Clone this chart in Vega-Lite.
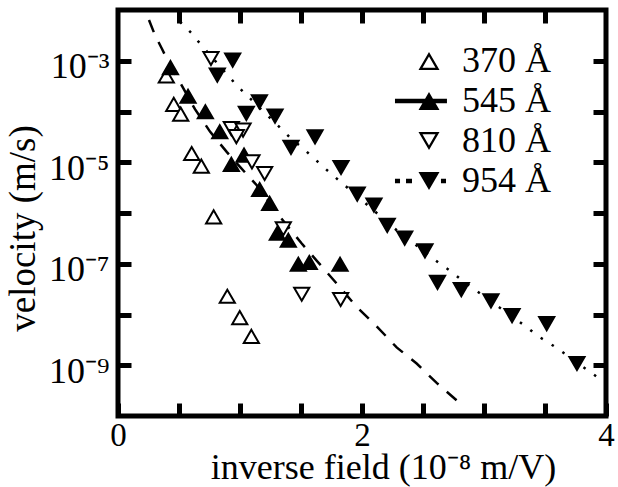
{
  "$schema": "https://vega.github.io/schema/vega-lite/v6.json",
  "width": 488,
  "height": 406,
  "autosize": {"type": "none"},
  "padding": {"left": 118, "top": 10, "right": 12, "bottom": 71},
  "background": "white",
  "config": {
    "view": {"stroke": "black", "strokeWidth": 5},
    "font": "Liberation Serif",
    "axis": {"grid": false, "domain": false, "tickColor": "black", "tickWidth": 5, "tickSize": -13, "labelColor": "black", "titleColor": "black", "labelFont": "Liberation Serif", "titleFont": "Liberation Serif", "titleFontWeight": "normal"},
    "legend": {"labelFont": "Liberation Serif"}
  },
  "datasets": {
    "pts": [
      {"s": "370 Å", "x": 0.396, "v": 5.0e-4},
      {"s": "370 Å", "x": 0.457, "v": 1.38e-4},
      {"s": "370 Å", "x": 0.514, "v": 8.9e-5},
      {"s": "370 Å", "x": 0.604, "v": 1.49e-5},
      {"s": "370 Å", "x": 0.683, "v": 8.4e-6},
      {"s": "370 Å", "x": 0.784, "v": 8.4e-7},
      {"s": "370 Å", "x": 0.896, "v": 2.29e-8},
      {"s": "370 Å", "x": 0.998, "v": 8.7e-9},
      {"s": "370 Å", "x": 1.093, "v": 3.7e-9},
      {"s": "545 Å", "x": 0.430, "v": 7.3e-4},
      {"s": "545 Å", "x": 0.574, "v": 2.0e-4},
      {"s": "545 Å", "x": 0.716, "v": 9.9e-5},
      {"s": "545 Å", "x": 0.834, "v": 4.0e-5},
      {"s": "545 Å", "x": 0.929, "v": 9.1e-6},
      {"s": "545 Å", "x": 1.033, "v": 1.38e-5},
      {"s": "545 Å", "x": 1.161, "v": 2.9e-6},
      {"s": "545 Å", "x": 1.243, "v": 1.55e-6},
      {"s": "545 Å", "x": 1.306, "v": 4.0e-7},
      {"s": "545 Å", "x": 1.396, "v": 2.9e-7},
      {"s": "545 Å", "x": 1.478, "v": 9.8e-8},
      {"s": "545 Å", "x": 1.568, "v": 1.06e-7},
      {"s": "545 Å", "x": 1.820, "v": 9.8e-8},
      {"s": "810 Å", "x": 0.762, "v": 1.11e-3},
      {"s": "810 Å", "x": 0.929, "v": 4.6e-5},
      {"s": "810 Å", "x": 1.025, "v": 4.3e-5},
      {"s": "810 Å", "x": 0.970, "v": 3.2e-5},
      {"s": "810 Å", "x": 1.098, "v": 1.02e-5},
      {"s": "810 Å", "x": 1.202, "v": 6.0e-6},
      {"s": "810 Å", "x": 1.355, "v": 4.9e-7},
      {"s": "810 Å", "x": 1.506, "v": 2.5e-8},
      {"s": "810 Å", "x": 1.825, "v": 1.97e-8},
      {"s": "954 Å", "x": 0.940, "v": 1.03e-3},
      {"s": "954 Å", "x": 0.814, "v": 5.2e-4},
      {"s": "954 Å", "x": 1.159, "v": 1.55e-4},
      {"s": "954 Å", "x": 1.052, "v": 9.2e-5},
      {"s": "954 Å", "x": 1.287, "v": 8.1e-5},
      {"s": "954 Å", "x": 1.615, "v": 3.17e-5},
      {"s": "954 Å", "x": 1.418, "v": 1.96e-5},
      {"s": "954 Å", "x": 1.828, "v": 7.9e-6},
      {"s": "954 Å", "x": 1.961, "v": 2.35e-6},
      {"s": "954 Å", "x": 2.098, "v": 1.43e-6},
      {"s": "954 Å", "x": 2.207, "v": 5.7e-7},
      {"s": "954 Å", "x": 2.350, "v": 3.2e-7},
      {"s": "954 Å", "x": 2.516, "v": 1.79e-7},
      {"s": "954 Å", "x": 2.619, "v": 4.3e-8},
      {"s": "954 Å", "x": 2.814, "v": 3.1e-8},
      {"s": "954 Å", "x": 3.057, "v": 1.85e-8},
      {"s": "954 Å", "x": 3.230, "v": 9.5e-9},
      {"s": "954 Å", "x": 3.514, "v": 6.6e-9},
      {"s": "954 Å", "x": 3.762, "v": 1.08e-9}
    ],
    "fit545": [
      {"x": 0.254, "v": 6.35e-3},
      {"x": 0.303, "v": 3.21e-3},
      {"x": 0.358, "v": 1.76e-3},
      {"x": 0.399, "v": 1.11e-3},
      {"x": 0.631, "v": 1.11e-4},
      {"x": 0.754, "v": 4.02e-5},
      {"x": 0.891, "v": 1.60e-5},
      {"x": 1.000, "v": 8.1e-6},
      {"x": 1.137, "v": 3.53e-6},
      {"x": 1.328, "v": 8.4e-7},
      {"x": 1.506, "v": 2.50e-7},
      {"x": 1.639, "v": 1.08e-7},
      {"x": 1.793, "v": 4.06e-8},
      {"x": 1.957, "v": 1.41e-8},
      {"x": 2.120, "v": 5.85e-9},
      {"x": 2.284, "v": 2.25e-9},
      {"x": 2.448, "v": 1.08e-9},
      {"x": 2.612, "v": 4.50e-10},
      {"x": 2.776, "v": 2.03e-10},
      {"x": 2.830, "v": 1.62e-10}
    ],
    "fit954": [
      {"x": 0.508, "v": 5.87e-3},
      {"x": 0.604, "v": 3.47e-3},
      {"x": 0.678, "v": 2.10e-3},
      {"x": 0.834, "v": 7.85e-4},
      {"x": 0.910, "v": 4.83e-4},
      {"x": 0.989, "v": 2.99e-4},
      {"x": 1.334, "v": 4.65e-5},
      {"x": 1.410, "v": 3.08e-5},
      {"x": 1.500, "v": 2.01e-5},
      {"x": 1.588, "v": 1.32e-5},
      {"x": 1.670, "v": 8.65e-6},
      {"x": 1.757, "v": 5.64e-6},
      {"x": 1.847, "v": 3.70e-6},
      {"x": 2.025, "v": 1.58e-6},
      {"x": 2.284, "v": 4.58e-7},
      {"x": 2.645, "v": 9.77e-8},
      {"x": 2.736, "v": 6.89e-8},
      {"x": 2.818, "v": 4.73e-8},
      {"x": 2.907, "v": 3.33e-8},
      {"x": 3.350, "v": 5.66e-9},
      {"x": 3.440, "v": 3.77e-9},
      {"x": 3.530, "v": 2.79e-9},
      {"x": 3.623, "v": 1.97e-9},
      {"x": 3.882, "v": 7.02e-10},
      {"x": 3.973, "v": 4.88e-10}
    ]
  },
  "resolve": {
    "axis": {"x": "independent", "y": "independent"},
    "scale": {"shape": "independent", "fill": "independent"}
  },
  "layer": [
    {
      "data": {"name": "fit545"},
      "mark": {"type": "line", "color": "black", "strokeWidth": 2.5, "strokeDash": [13, 11], "clip": true},
      "encoding": {
        "x": {"field": "x", "type": "quantitative", "scale": {"domain": [0, 4], "nice": false},
              "axis": {"orient": "top", "values": [0.5, 1, 1.5, 2, 2.5, 3, 3.5], "labels": false, "title": null}},
        "y": {"field": "v", "type": "quantitative", "scale": {"type": "log", "domain": [1e-10, 1e-2], "nice": false},
              "axis": {"orient": "right", "values": [1e-9, 1e-8, 1e-7, 1e-6, 1e-5, 1e-4, 1e-3], "labels": false, "title": null}}
      }
    },
    {
      "data": {"name": "fit954"},
      "mark": {"type": "line", "color": "black", "strokeWidth": 2.5, "strokeDash": [2.5, 10.5], "clip": true},
      "encoding": {
        "x": {"field": "x", "type": "quantitative", "axis": null},
        "y": {"field": "v", "type": "quantitative", "axis": null}
      }
    },
    {
      "data": {"name": "pts"},
      "transform": [{"filter": "false"}],
      "mark": {"type": "point", "size": 220, "filled": true, "strokeWidth": 0, "opacity": 1},
      "encoding": {
        "x": {"field": "x", "type": "quantitative", "axis": null},
        "y": {"field": "v", "type": "quantitative", "axis": null},
        "shape": {"field": "s", "type": "nominal",
                  "scale": {"domain": ["370 Å", "545 Å", "810 Å", "954 Å"],
                            "range": [
                              "M0,-0.866L-1,0.866L1,0.866ZM0,-0.426L0.619,0.646L-0.619,0.646Z",
                              "M0,-0.866L-1,0.866L1,0.866ZM-3.24,-0.21L-3.24,0.21L1.71,0.21L1.71,-0.21Z",
                              "M0,0.866L-1,-0.866L1,-0.866ZM0,0.426L0.619,-0.646L-0.619,-0.646Z",
                              "M0,0.866L-1,-0.866L1,-0.866ZM-3.24,-0.21L-2.76,-0.21L-2.76,0.21L-3.24,0.21ZM-2.19,-0.21L-1.62,-0.21L-1.62,0.21L-2.19,0.21ZM1.14,-0.21L1.62,-0.21L1.62,0.21L1.14,0.21Z"
                            ]},
                  "legend": {"title": null, "orient": "none", "legendX": 293, "legendY": 33, "padding": 0,
                             "symbolSize": 441, "symbolStrokeWidth": 0, "symbolFillColor": "black", "symbolOpacity": 1,
                             "labelFont": "Liberation Serif", "labelFontSize": 36,
                             "labelColor": "black", "labelOffset": 15, "rowPadding": 4}},
        "fill": {"field": "s", "type": "nominal",
                 "scale": {"domain": ["370 Å", "545 Å", "810 Å", "954 Å"], "range": ["black", "black", "black", "black"]},
                 "legend": {"title": null, "orient": "none", "legendX": 293, "legendY": 33, "padding": 0,
                            "symbolSize": 441, "symbolStrokeWidth": 0, "symbolFillColor": "black", "symbolOpacity": 1,
                            "labelFont": "Liberation Serif", "labelFontSize": 36,
                            "labelColor": "black", "labelOffset": 15, "rowPadding": 4}}
      }
    },
    {
      "data": {"name": "pts"},
      "mark": {"type": "point", "size": 230, "stroke": "black", "strokeWidth": 2, "opacity": 1},
      "encoding": {
        "x": {"field": "x", "type": "quantitative",
              "axis": {"orient": "bottom", "values": [0, 0.5, 1, 1.5, 2, 2.5, 3, 3.5, 4],
                       "labelExpr": "datum.value % 2 == 0 ? format(datum.value, 'd') : ''",
                       "labelFont": "Liberation Serif", "labelFontSize": 33, "labelPadding": 16, "labelFlush": false,
                       "title": "inverse field (10⁻⁸ m/V)", "titleFont": "Liberation Serif", "titleFontSize": 36,
                       "titleX": 265, "titleY": 62, "titleBaseline": "alphabetic", "titleAlign": "center"}},
        "y": {"field": "v", "type": "quantitative",
              "axis": {"orient": "left", "values": [1e-9, 1e-8, 1e-7, 1e-6, 1e-5, 1e-4, 1e-3],
                       "labelExpr": "round(log(datum.value)/LN10) == -3 ? '10⁻³' : round(log(datum.value)/LN10) == -5 ? '10⁻⁵' : round(log(datum.value)/LN10) == -7 ? '10⁻⁷' : round(log(datum.value)/LN10) == -9 ? '10⁻⁹' : ''",
                       "labelFont": "Liberation Serif", "labelFontSize": 36, "labelPadding": 22, "labelOffset": 6,
                       "title": "velocity (m/s)", "titleFont": "Liberation Serif", "titleFontSize": 37,
                       "titleX": -76, "titleY": 218, "titleAngle": -90, "titleBaseline": "bottom", "titleAlign": "center"}},
        "shape": {"field": "s", "type": "nominal",
                  "scale": {"domain": ["370 Å", "545 Å", "810 Å", "954 Å"], "range": ["triangle-up", "triangle-up", "triangle-down", "triangle-down"]},
                  "legend": null},
        "fill": {"field": "s", "type": "nominal",
                 "scale": {"domain": ["370 Å", "545 Å", "810 Å", "954 Å"], "range": ["white", "black", "white", "black"]},
                 "legend": null}
      }
    }
  ]
}
